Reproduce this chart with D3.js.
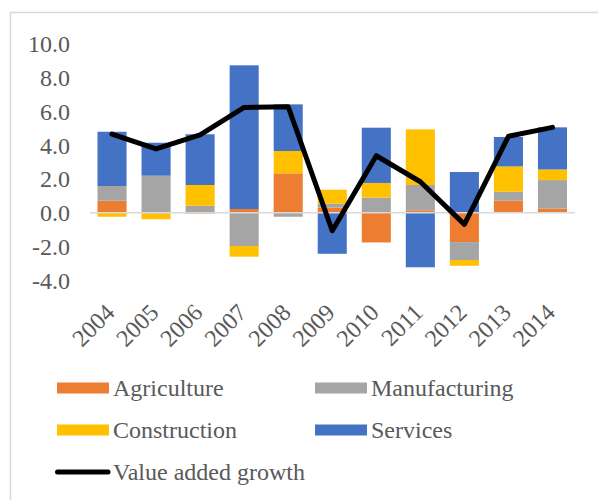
<!DOCTYPE html>
<html>
<head>
<meta charset="utf-8">
<script src="https://cdn.jsdelivr.net/npm/d3@7/dist/d3.min.js"></script>
<style>
  html, body { margin: 0; padding: 0; background: #fff; }
  svg { display: block; }
  text { font-family: "Liberation Serif", "Times New Roman", serif; fill: #595959; }
</style>
</head>
<body>
<svg id="chart" width="598" height="500"></svg>
<script>
// Contributions to value added growth by sector (percentage points)
const years = ["2004","2005","2006","2007","2008","2009","2010","2011","2012","2013","2014"];
const agriculture   = [0.71, -0.05, -0.05, 0.22, 2.33, 0.30, -1.76, 0.14, -1.74, 0.71, 0.24];
const manufacturing = [0.87, 2.19, 0.41, -1.97, -0.24, 0.23, 0.89, 1.50, -1.06, 0.53, 1.69];
const construction  = [-0.24, -0.34, 1.23, -0.63, 1.32, 0.83, 0.87, 3.29, -0.34, 1.50, 0.63];
const services      = [3.21, 1.95, 3.00, 8.50, 2.76, -2.43, 3.27, -3.23, 2.41, 1.74, 2.49];
const valueAddedGrowth = [4.65, 3.77, 4.60, 6.23, 6.27, -1.07, 3.37, 1.83, -0.69, 4.52, 5.05];
const yTicks = [-4, -2, 0, 2, 4, 6, 8, 10];

const seriesNames = ["Agriculture", "Manufacturing", "Construction", "Services"];
const seriesColors = ["#ED7D31", "#A5A5A5", "#FFC000", "#4472C4"];
const seriesData = [agriculture, manufacturing, construction, services];

const rows = years.map((y, i) => {
  const r = { year: y };
  seriesNames.forEach((n, k) => r[n] = seriesData[k][i]);
  return r;
});

const FONT = "24px";
const svg = d3.select("#chart");

// chart frame
svg.append("rect")
  .attr("x", 10.5).attr("y", 12.5)
  .attr("width", 600).attr("height", 500)
  .attr("fill", "none").attr("stroke", "#d9d9d9").attr("stroke-width", 1.5);

const x = d3.scaleBand().domain(years).range([90, 574.5]).paddingInner(0.34).paddingOuter(0.17);
const y = d3.scaleLinear().domain([-4, 10]).range([280.3, 43.7]);

// value axis labels (plain hyphen for negatives)
const fmt = d => d3.format(".1f")(d).replace("\u2212", "-");
svg.append("g").selectAll("text")
  .data(yTicks).join("text")
  .attr("x", 70).attr("y", d => y(d))
  .attr("dy", "0.35em")
  .attr("text-anchor", "end")
  .style("font-size", FONT)
  .text(fmt);

// stacked columns
const stack = d3.stack().keys(seriesNames).offset(d3.stackOffsetDiverging);
const layers = stack(rows);

svg.append("g").selectAll("g")
  .data(layers).join("g")
  .attr("fill", (d, i) => seriesColors[i])
  .selectAll("rect")
  .data(d => d).join("rect")
  .attr("x", d => x(d.data.year))
  .attr("width", x.bandwidth())
  .attr("y", d => y(Math.max(d[0], d[1])))
  .attr("height", d => Math.abs(y(d[0]) - y(d[1])));

// zero line
svg.append("line")
  .attr("x1", 90).attr("x2", 575)
  .attr("y1", y(0)).attr("y2", y(0))
  .attr("stroke", "#d9d9d9").attr("stroke-width", 1.5);

// total growth line
const line = d3.line()
  .x((d, i) => x(years[i]) + x.bandwidth() / 2)
  .y(d => y(d));
svg.append("path")
  .datum(valueAddedGrowth)
  .attr("d", line)
  .attr("fill", "none")
  .attr("stroke", "#000")
  .attr("stroke-width", 5)
  .attr("stroke-linejoin", "round")
  .attr("stroke-linecap", "round");

// category labels, rotated
svg.append("g").selectAll("text")
  .data(years).join("text")
  .attr("transform", d => `translate(${x(d) + x.bandwidth() / 2 - 2},${308}) rotate(-45)`)
  .attr("text-anchor", "end")
  .attr("dy", "0.35em")
  .style("font-size", FONT)
  .text(d => d);

// legend
const legendItems = [
  { name: "Agriculture", color: seriesColors[0], lx: 57, ly: 388 },
  { name: "Manufacturing", color: seriesColors[1], lx: 315, ly: 388 },
  { name: "Construction", color: seriesColors[2], lx: 57, ly: 430 },
  { name: "Services", color: seriesColors[3], lx: 315, ly: 430 }
];
const lg = svg.append("g");
legendItems.forEach(it => {
  lg.append("rect").attr("x", it.lx).attr("y", it.ly - 5.5)
    .attr("width", 52).attr("height", 11).attr("fill", it.color);
  lg.append("text").attr("x", it.lx + 56).attr("y", it.ly)
    .attr("dy", "0.35em").style("font-size", FONT).text(it.name);
});
lg.append("line").attr("x1", 57.5).attr("x2", 108).attr("y1", 472).attr("y2", 472)
  .attr("stroke", "#000").attr("stroke-width", 5).attr("stroke-linecap", "round");
lg.append("text").attr("x", 113).attr("y", 472).attr("dy", "0.35em")
  .style("font-size", FONT).text("Value added growth");
</script>
</body>
</html>
